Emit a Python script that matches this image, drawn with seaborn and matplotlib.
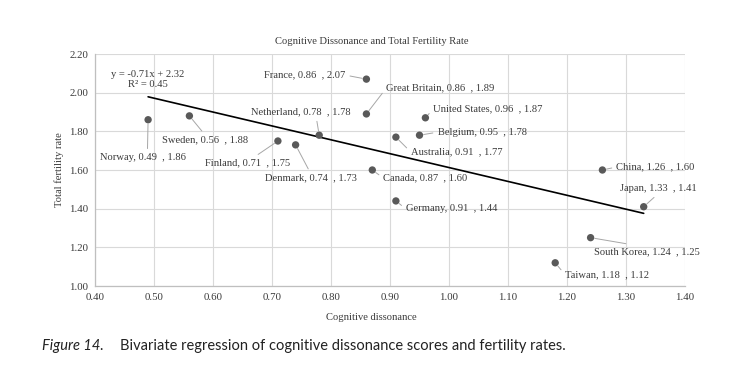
import numpy as np
import pandas as pd
import matplotlib
matplotlib.use('Agg')
import matplotlib.pyplot as plt
import seaborn as sns

# values as printed in the data labels
countries = ['Norway', 'Sweden', 'Finland', 'Denmark', 'Netherland', 'France',
             'Great Britain', 'United States', 'Belgium', 'Australia', 'Canada',
             'Germany', 'China', 'Japan', 'South Korea', 'Taiwan']
dissonance = [0.49, 0.56, 0.71, 0.74, 0.78, 0.86, 0.86, 0.96, 0.95, 0.91, 0.87,
              0.91, 1.26, 1.33, 1.24, 1.18]
fertility = [1.86, 1.88, 1.75, 1.73, 1.78, 2.07, 1.89, 1.87, 1.78, 1.77, 1.60,
             1.44, 1.60, 1.41, 1.25, 1.12]
x_ticks = [0.40, 0.50, 0.60, 0.70, 0.80, 0.90, 1.00, 1.10, 1.20, 1.30, 1.40]
y_ticks = [1.00, 1.20, 1.40, 1.60, 1.80, 2.00, 2.20]
equation_text = 'y = -0.71x + 2.32\nR\u00b2 = 0.45'

# label placement: offset in pixels from the marker, alignment, leader start
label_layout = {
    'Norway': ((-5, -38), 'center', (0.55, 1)),
    'Sweden': ((16, -24), 'center', (0.5, 1)),
    'Finland': ((-30, -22), 'center', (0.55, 1)),
    'Denmark': ((15, -33), 'center', (0.5, 1)),
    'Netherland': ((-18, 23), 'center', (0.65, 0)),
    'France': ((-21, 4), 'right', (1, 0.5)),
    'Great Britain': ((20, 26), 'left', (0, 0.5)),
    'United States': ((8, 9), 'left', (0, 0.5)),
    'Belgium': ((18, 3), 'left', (0, 0.5)),
    'Australia': ((15, -15), 'left', (0, 0.5)),
    'Canada': ((11, -8), 'left', (0, 0.5)),
    'Germany': ((10, -8), 'left', (0, 0.5)),
    'China': ((14, 3), 'left', (0, 0.5)),
    'Japan': ((15, 18), 'center', (0.5, 0)),
    'South Korea': ((3, -14), 'left', (0.5, 1)),
    'Taiwan': ((10, -12), 'left', (0, 0.5)),
}

df = pd.DataFrame({'country': countries, 'x': dissonance, 'y': fertility})

sns.set_theme(style='whitegrid')
plt.rcParams['font.family'] = ['Liberation Serif', 'DejaVu Serif']
text_color = '#3a3a3a'

fig = plt.figure(figsize=(7.4, 3.7), dpi=100)
ax = fig.add_axes([95 / 740, 1 - 286 / 370, 590 / 740, 232 / 370])

sns.regplot(data=df, x='x', y='y', ax=ax, scatter=False, ci=None, truncate=True,
            line_kws={'color': 'black', 'lw': 1.2})
sns.scatterplot(data=df, x='x', y='y', ax=ax, color='#595959', s=28,
                edgecolor='none', zorder=3)

for _, row in df.iterrows():
    offset, ha, relpos = label_layout[row['country']]
    ax.annotate(f"{row['country']}, {row['x']:.2f}  , {row['y']:.2f}",
                xy=(row['x'], row['y']), xytext=offset, textcoords='offset pixels',
                ha=ha, va='center', fontsize=7.6, color=text_color,
                arrowprops=dict(arrowstyle='-', color='#a6a6a6', lw=0.7,
                                relpos=relpos, shrinkA=1, shrinkB=3))

ax.text(0.09, 0.89, equation_text, transform=ax.transAxes, ha='center', va='center',
        multialignment='center', fontsize=7.6, color=text_color, linespacing=1.1)

ax.set_xlim(x_ticks[0], x_ticks[-1])
ax.set_ylim(y_ticks[0], y_ticks[-1])
ax.set_xticks(x_ticks)
ax.set_yticks(y_ticks)
ax.set_xticklabels([f'{v:.2f}' for v in x_ticks])
ax.set_yticklabels([f'{v:.2f}' for v in y_ticks])
ax.tick_params(axis='both', labelsize=7.8, colors=text_color, length=0)
ax.tick_params(axis='x', pad=5)
ax.tick_params(axis='y', pad=5)
ax.grid(True, color='#d9d9d9', lw=0.8)
ax.set_facecolor('white')
for side in ['top', 'right']:
    ax.spines[side].set_visible(False)
for side in ['left', 'bottom']:
    ax.spines[side].set_color('#bfbfbf')
    ax.spines[side].set_linewidth(0.9)

ax.set_xlabel('Cognitive dissonance', fontsize=7.6, color=text_color)
ax.set_ylabel('Total fertility rate', fontsize=7.6, color=text_color)
ax.xaxis.set_label_coords(0.469, -0.118)
ax.yaxis.set_label_coords(-0.052, 0.5)

fig.text(372 / 740, 1 - 41 / 370, 'Cognitive Dissonance and Total Fertility Rate',
         ha='center', va='center', fontsize=7.6, color=text_color)

fig.text(42 / 740, 1 - 346 / 370, 'Figure 14.', ha='left', va='center',
         fontsize=10.5, style='italic', color='#222222', family=['Lato', 'DejaVu Sans'])
fig.text(120 / 740, 1 - 346 / 370,
         'Bivariate regression of cognitive dissonance scores and fertility rates.',
         ha='left', va='center', fontsize=10.5, color='#222222',
         family=['Lato', 'DejaVu Sans'])

fig.savefig('out.png', dpi=100, facecolor='white')
